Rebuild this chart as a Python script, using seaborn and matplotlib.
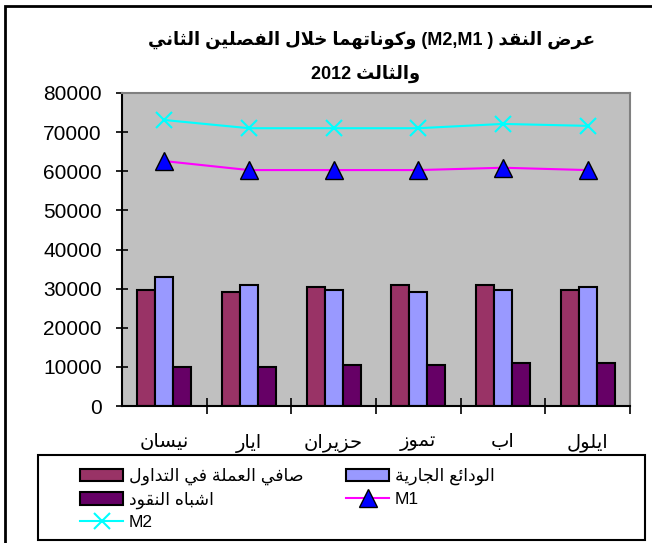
import numpy as np
import pandas as pd
import matplotlib
matplotlib.use("Agg")
import matplotlib.pyplot as plt
from matplotlib.patches import Rectangle, Patch
from matplotlib.lines import Line2D
import seaborn as sns

# data, months left to right as in the chart
months = ["نيسان", "ايار", "حزيران", "تموز", "اب", "ايلول"]
currency = [29700, 29200, 30300, 30900, 30900, 29700]
deposits = [33000, 30900, 29700, 29200, 29700, 30300]
quasi = [10000, 10000, 10600, 10600, 11000, 11000]
m1 = [62600, 60300, 60300, 60300, 60900, 60300]
m2 = [73100, 71000, 71000, 71000, 72100, 71600]
bar_names = ["صافي العملة في التداول", "الودائع الجارية", "اشباه النقود"]
bar_colors = ["#993366", "#9999FF", "#660066"]

# matplotlib has no arabic shaping, so map letters to presentation forms
# (isolated, final, initial, medial) and reverse for display
FORMS = {
    'ا': (0xFE8D, 2), 'ب': (0xFE8F, 4), 'ة': (0xFE93, 2), 'ت': (0xFE95, 4),
    'ث': (0xFE99, 4), 'ج': (0xFE9D, 4), 'ح': (0xFEA1, 4), 'خ': (0xFEA5, 4),
    'د': (0xFEA9, 2), 'ذ': (0xFEAB, 2), 'ر': (0xFEAD, 2), 'ز': (0xFEAF, 2),
    'س': (0xFEB1, 4), 'ش': (0xFEB5, 4), 'ص': (0xFEB9, 4), 'ض': (0xFEBD, 4),
    'ط': (0xFEC1, 4), 'ظ': (0xFEC5, 4), 'ع': (0xFEC9, 4), 'غ': (0xFECD, 4),
    'ف': (0xFED1, 4), 'ق': (0xFED5, 4), 'ك': (0xFED9, 4), 'ل': (0xFEDD, 4),
    'م': (0xFEE1, 4), 'ن': (0xFEE5, 4), 'ه': (0xFEE9, 4), 'و': (0xFEED, 2),
    'ى': (0xFEEF, 2), 'ي': (0xFEF1, 4), 'ئ': (0xFE89, 4),
}


def dual(c):
    return c in FORMS and FORMS[c][1] == 4


def ar(text):
    out = []
    i = 0
    n = len(text)
    while i < n:
        c = text[i]
        if c not in FORMS:
            out.append(c)
            i += 1
            continue
        joins_prev = i > 0 and dual(text[i - 1])
        if c == 'ل' and i + 1 < n and text[i + 1] == 'ا':
            out.append(chr(0xFEFC if joins_prev else 0xFEFB))
            i += 2
            continue
        joins_next = dual(c) and i + 1 < n and text[i + 1] in FORMS
        if joins_prev and joins_next:
            form = 3
        elif joins_prev:
            form = 1
        elif joins_next:
            form = 2
        else:
            form = 0
        out.append(chr(FORMS[c][0] + form))
        i += 1
    return "".join(out)[::-1]


plt.rcParams['font.family'] = ['Liberation Sans', 'DejaVu Sans']

labels = [ar(m) for m in months]
names = [ar(n) for n in bar_names]
df = pd.DataFrame({
    "month": labels * 3,
    "value": currency + deposits + quasi,
    "series": [n for n in names for _ in months],
})

fig = plt.figure(figsize=(6.52, 5.43), dpi=100)
ax = fig.add_axes([122/652, 1 - 406/543, 508/652, 313/543])
ax.set_facecolor("#C0C0C0")

sns.barplot(data=df, x="month", y="value", hue="series", order=labels,
            hue_order=names, palette=bar_colors, width=0.64,
            edgecolor="black", linewidth=1.5, saturation=1, ax=ax, legend=False)

x = np.arange(len(months))
ax.plot(x, m1, color="#FF00FF", lw=1.5, marker="^", ms=13,
        mfc="#0000FF", mec="black", mew=1, zorder=5)
ax.plot(x, m2, color="#00FFFF", lw=1.5, marker="x", ms=11, mew=1.5, zorder=5)

ax.set_xlim(-0.5, 5.5)
ax.set_ylim(0, 80000)
ax.set_yticks(range(0, 80001, 10000))
ax.set_xlabel("")
ax.set_ylabel("")
ax.tick_params(axis="y", direction="inout", length=9, width=1.2, labelsize=15, pad=10)
ax.tick_params(axis="x", which="major", length=0, labelsize=14, pad=20)
ax.set_xticks(np.arange(0.5, 6, 1), minor=True)
ax.tick_params(axis="x", which="minor", direction="inout", length=11, width=1.2)
for s in ["left", "bottom"]:
    ax.spines[s].set_color("black")
    ax.spines[s].set_linewidth(1.5)
for s in ["top", "right"]:
    ax.spines[s].set_color("#808080")
    ax.spines[s].set_linewidth(1.5)

# title
fig.text(372/652, 1 - 40/543,
         ar("وكوناتهما خلال الفصلين الثاني") + " (M2,M1 ) " + ar("عرض النقد"),
         ha="center", va="center", fontsize=13, fontweight="bold")
fig.text(366/652, 1 - 74/543, "2012 " + ar("والثالث"),
         ha="center", va="center", fontsize=13, fontweight="bold")

# outer frame and legend box
fig.add_artist(Rectangle((5/652, -0.05), 1.1, 1 - 6/543 + 0.05,
                         transform=fig.transFigure, fill=False, ec="black", lw=2))
fig.add_artist(Rectangle((38/652, 1 - 540/543), 607/652, 85/543,
                         transform=fig.transFigure, fill=False, ec="black", lw=1.5))

h_cur = Patch(facecolor=bar_colors[0], edgecolor="black", lw=1.5)
h_dep = Patch(facecolor=bar_colors[1], edgecolor="black", lw=1.5)
h_qua = Patch(facecolor=bar_colors[2], edgecolor="black", lw=1.5)
h_m1 = Line2D([], [], color="#FF00FF", lw=1.5, marker="^", ms=13,
              mfc="#0000FF", mec="black")
h_m2 = Line2D([], [], color="#00FFFF", lw=1.5, marker="x", ms=11, mew=1.5)

leg_kw = dict(loc="upper left", frameon=False, fontsize=12.5, handlelength=2.5,
              handleheight=0.75, handletextpad=0.3, labelspacing=0.35,
              borderpad=0, borderaxespad=0)
fig.legend([h_cur, h_qua, h_m2], [names[0], names[2], "M2"],
           bbox_to_anchor=(80/652, 1 - 468/543), **leg_kw)
fig.legend([h_dep, h_m1], [names[1], "M1"],
           bbox_to_anchor=(346/652, 1 - 468/543), **leg_kw)

fig.savefig("out.png", dpi=100)
